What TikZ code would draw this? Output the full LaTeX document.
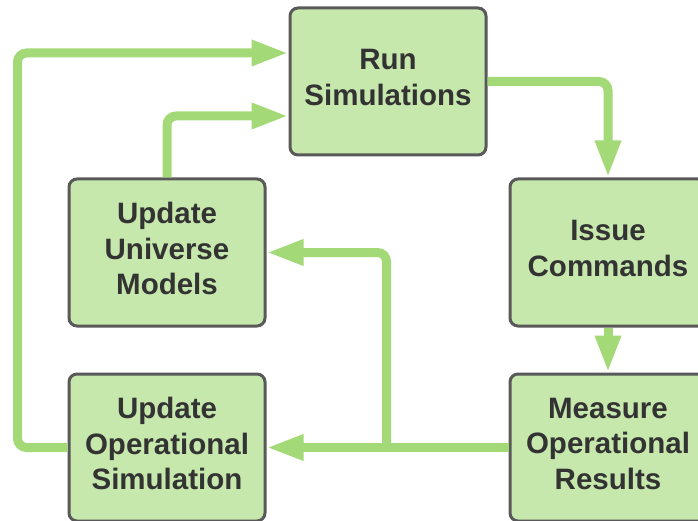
\documentclass[tikz,border=0pt]{standalone}
\usepackage{fontspec}
\setmainfont{Liberation Sans}
\usetikzlibrary{arrows.meta}
\definecolor{boxfill}{HTML}{C6E8AC}
\definecolor{boxline}{HTML}{595959}
\definecolor{flowgreen}{HTML}{A3D977}
\definecolor{labeltext}{HTML}{333333}
\tikzset{
  stepbox/.style={draw=boxline, line width=3pt, fill=boxfill, rounded corners=8pt,
    minimum width=196pt, minimum height=147pt, inner sep=0pt},
  steptext/.style={align=center, inner sep=0pt, yshift=4pt, text=labeltext,
    font=\fontsize{29.5}{35.5}\selectfont\bfseries},
  flow/.style={draw=flowgreen, line width=9pt, rounded corners=9pt,
    -{Triangle[length=37pt,width=24pt]}}
}
\begin{document}
\begin{tikzpicture}[x=1pt,y=1pt]
\useasboundingbox (0,0) rectangle (698,520);
% process steps
\node[stepbox, label={[steptext]center:{Run\\Simulations}}] (run) at (388,438.5) {};
\node[stepbox, label={[steptext]center:{Issue\\Commands}}] (issue) at (608,267.5) {};
\node[stepbox, label={[steptext]center:{Measure\\Operational\\Results}}] (measure) at (608,72.5) {};
\node[stepbox, label={[steptext]center:{Update\\Universe\\Models}}] (universe) at (167,267.5) {};
\node[stepbox, label={[steptext]center:{Update\\Operational\\Simulation}}] (opsim) at (167,72.5) {};
% connectors
\coordinate (split) at ([xshift=-122]measure.west);
\draw[flow] (opsim.west) -- ++(-50,0) |- ([yshift=28.5]run.west);
\draw[flow] (universe.north) |- ([yshift=-34.5]run.west);
\draw[flow] (run.east) -| (issue.north);
\draw[flow] (issue.south) -- (measure.north);
\draw[flow] (measure.west) -- (opsim.east);
\draw[flow] (split) |- (universe.east);
\end{tikzpicture}
\end{document}
